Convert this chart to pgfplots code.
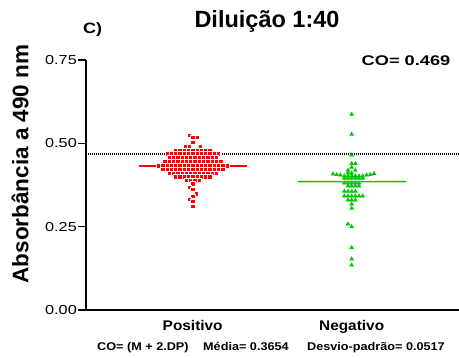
\documentclass[border=0pt]{standalone}
\usepackage{pgfplots}
\pgfplotsset{compat=1.18}
\usepackage{fontspec}
\setmainfont{Liberation Sans}
\usepackage{graphicx}
\definecolor{pgreen}{RGB}{0,200,0}
\definecolor{pred}{RGB}{255,0,0}
\begin{document}
\begin{tikzpicture}
\path[use as bounding box] (-86pt,-48pt) rectangle (373pt,310pt);
\begin{axis}[
  at={(0pt,0pt)}, anchor=south west,
  width=373pt, height=250pt, scale only axis,
  xmin=0.329, xmax=2.675, ymin=0, ymax=0.75,
  axis lines=left,
  axis line style={-, line width=1.6pt},
  clip=false,
  ytick={0,0.25,0.5,0.75},
  yticklabels={\scalebox{1.25}[1]{0.00},\scalebox{1.25}[1]{0.25},\scalebox{1.25}[1]{0.50},\scalebox{1.25}[1]{0.75}},
  ytick align=outside,
  major tick length=8pt,
  ytick style={line width=1.6pt, black},
  yticklabel style={font=\fontsize{13}{15}\selectfont, inner xsep=1pt},
  xtick={1,2},
  xticklabels={\scalebox{1.1}[1]{Positivo},\scalebox{1.1}[1]{Negativo}},
  xtick style={draw=none},
  xticklabel style={font=\fontsize{14}{16}\selectfont\bfseries, anchor=base, yshift=-17pt},
  /pgf/number format/assume math mode=true,
]
% Positivo
\addplot[only marks, mark=square*, mark size=2.2pt, mark options={fill=pred, draw=white, line width=0.35pt}] coordinates {
(0.977,0.525)
(1.000,0.518) (1.027,0.518)
(1.000,0.503)
(0.953,0.492) (0.977,0.492) (1.046,0.492)
(0.892,0.480) (0.919,0.480) (0.946,0.480) (0.973,0.480) (1.000,0.480) (1.027,0.480) (1.054,0.480) (1.081,0.480) (1.108,0.480)
(0.838,0.469) (0.865,0.469) (0.892,0.469) (0.919,0.469) (0.946,0.469) (0.973,0.469) (1.000,0.469) (1.027,0.469) (1.054,0.469) (1.081,0.469) (1.108,0.469) (1.135,0.469) (1.162,0.469)
(0.8515,0.457) (0.8785,0.457) (0.9055,0.457) (0.9325,0.457) (0.9595,0.457) (0.9865,0.457) (1.0135,0.457) (1.0405,0.457) (1.0675,0.457) (1.0945,0.457) (1.1215,0.457) (1.1485,0.457)
(0.8245,0.445) (0.8515,0.445) (0.8785,0.445) (0.9055,0.445) (0.9325,0.445) (0.9595,0.445) (0.9865,0.445) (1.0135,0.445) (1.0405,0.445) (1.0675,0.445) (1.0945,0.445) (1.1215,0.445) (1.1485,0.445) (1.1755,0.445)
(0.784,0.433) (0.811,0.433) (0.838,0.433) (0.865,0.433) (0.892,0.433) (0.919,0.433) (0.946,0.433) (0.973,0.433) (1.000,0.433) (1.027,0.433) (1.054,0.433) (1.081,0.433) (1.108,0.433) (1.135,0.433) (1.162,0.433) (1.189,0.433) (1.216,0.433)
(0.811,0.422) (0.838,0.422) (0.865,0.422) (0.892,0.422) (0.919,0.422) (0.946,0.422) (0.973,0.422) (1.000,0.422) (1.027,0.422) (1.054,0.422) (1.081,0.422) (1.108,0.422) (1.135,0.422) (1.162,0.422) (1.189,0.422)
(0.8515,0.411) (0.8785,0.411) (0.9055,0.411) (0.9325,0.411) (0.9595,0.411) (0.9865,0.411) (1.0135,0.411) (1.0405,0.411) (1.0675,0.411) (1.0945,0.411) (1.1215,0.411) (1.1485,0.411)
(0.892,0.400) (0.919,0.400) (0.946,0.400) (0.973,0.400) (1.000,0.400) (1.027,0.400) (1.054,0.400) (1.081,0.400) (1.108,0.400)
(0.9595,0.389) (0.9865,0.389) (1.0135,0.389) (1.0405,0.389)
(1.000,0.379) (0.977,0.369) (1.000,0.362) (1.021,0.349) (1.000,0.341) (0.977,0.332) (1.000,0.327) (1.000,0.311)
};
% Negativo
\addplot[only marks, mark=triangle*, mark size=2.6pt, mark options={fill=pgreen, draw=pgreen, line width=0.01pt}] coordinates {
(2.000,0.587)
(2.000,0.527)
(2.000,0.465)
(2.000,0.439) (2.023,0.439)
(2.000,0.428)
(1.977,0.419) (2.023,0.419)
(1.977,0.411) (2.000,0.411)
(1.883,0.408) (1.906,0.406) (1.929,0.405) (2.094,0.405) (2.117,0.406) (2.141,0.409)
(1.954,0.402) (1.977,0.402) (2.000,0.402) (2.023,0.402) (2.046,0.402) (2.069,0.402)
(1.954,0.395) (1.977,0.395) (2.000,0.395) (2.023,0.395) (2.046,0.395) (2.069,0.395)
(1.954,0.381) (1.977,0.381) (2.000,0.381) (2.023,0.381) (2.046,0.381)
(1.977,0.372) (2.000,0.372) (2.023,0.372) (2.046,0.372)
(1.954,0.356) (1.977,0.356) (2.000,0.356) (2.023,0.356)
(1.954,0.342) (1.977,0.342) (2.000,0.342) (2.023,0.342) (2.046,0.342) (2.069,0.342)
(1.977,0.330) (2.000,0.330) (2.023,0.330)
(2.000,0.318)
(2.000,0.305)
(1.977,0.258) (2.000,0.250) (2.000,0.187) (2.000,0.153) (2.000,0.135)
};
% mean lines
\addplot[color=pred, mark=none, solid, line width=1.3pt] coordinates {(0.663,0.432) (1.342,0.432)};
\addplot[fill=pgreen, draw=none, mark=none] coordinates {(1.662,0.3829) (2.341,0.3829) (2.341,0.3871) (1.662,0.3871) (1.662,0.3829)};
% cut-off line
\addplot[color=black, mark=none, line width=1.8pt, dash pattern=on 1.1pt off 0.9pt] coordinates {(0.34,0.469) (2.675,0.469)};
\end{axis}
\node[anchor=base, font=\fontsize{23.5}{27}\selectfont\bfseries] at (181pt,282.7pt) {Diluição 1:40};
\node[anchor=base west, inner sep=0pt, font=\fontsize{15}{17}\selectfont\bfseries] at (-3pt,276pt) {\scalebox{1.2}[1]{C)}};
\node[anchor=base, inner sep=0pt, font=\fontsize{14}{16}\selectfont\bfseries] at (320pt,244pt) {\scalebox{1.3}[1]{CO= 0.469}};
\node[anchor=center, rotate=90, inner sep=0pt, font=\fontsize{22.5}{26}\selectfont\bfseries] at (-66pt,146pt) {Absorbância a 490 nm};
\node[anchor=base west, inner sep=0pt, font=\fontsize{11.2}{13}\selectfont\bfseries] at (11pt,-41pt) {\scalebox{1.13}[1]{CO= (M + 2.DP)}};
\node[anchor=base west, inner sep=0pt, font=\fontsize{11.2}{13}\selectfont\bfseries] at (117pt,-41pt) {\scalebox{1.13}[1]{Média= 0.3654}};
\node[anchor=base west, inner sep=0pt, font=\fontsize{11.2}{13}\selectfont\bfseries] at (221pt,-41pt) {\scalebox{1.13}[1]{Desvio-padrão= 0.0517}};
\end{tikzpicture}
\end{document}
